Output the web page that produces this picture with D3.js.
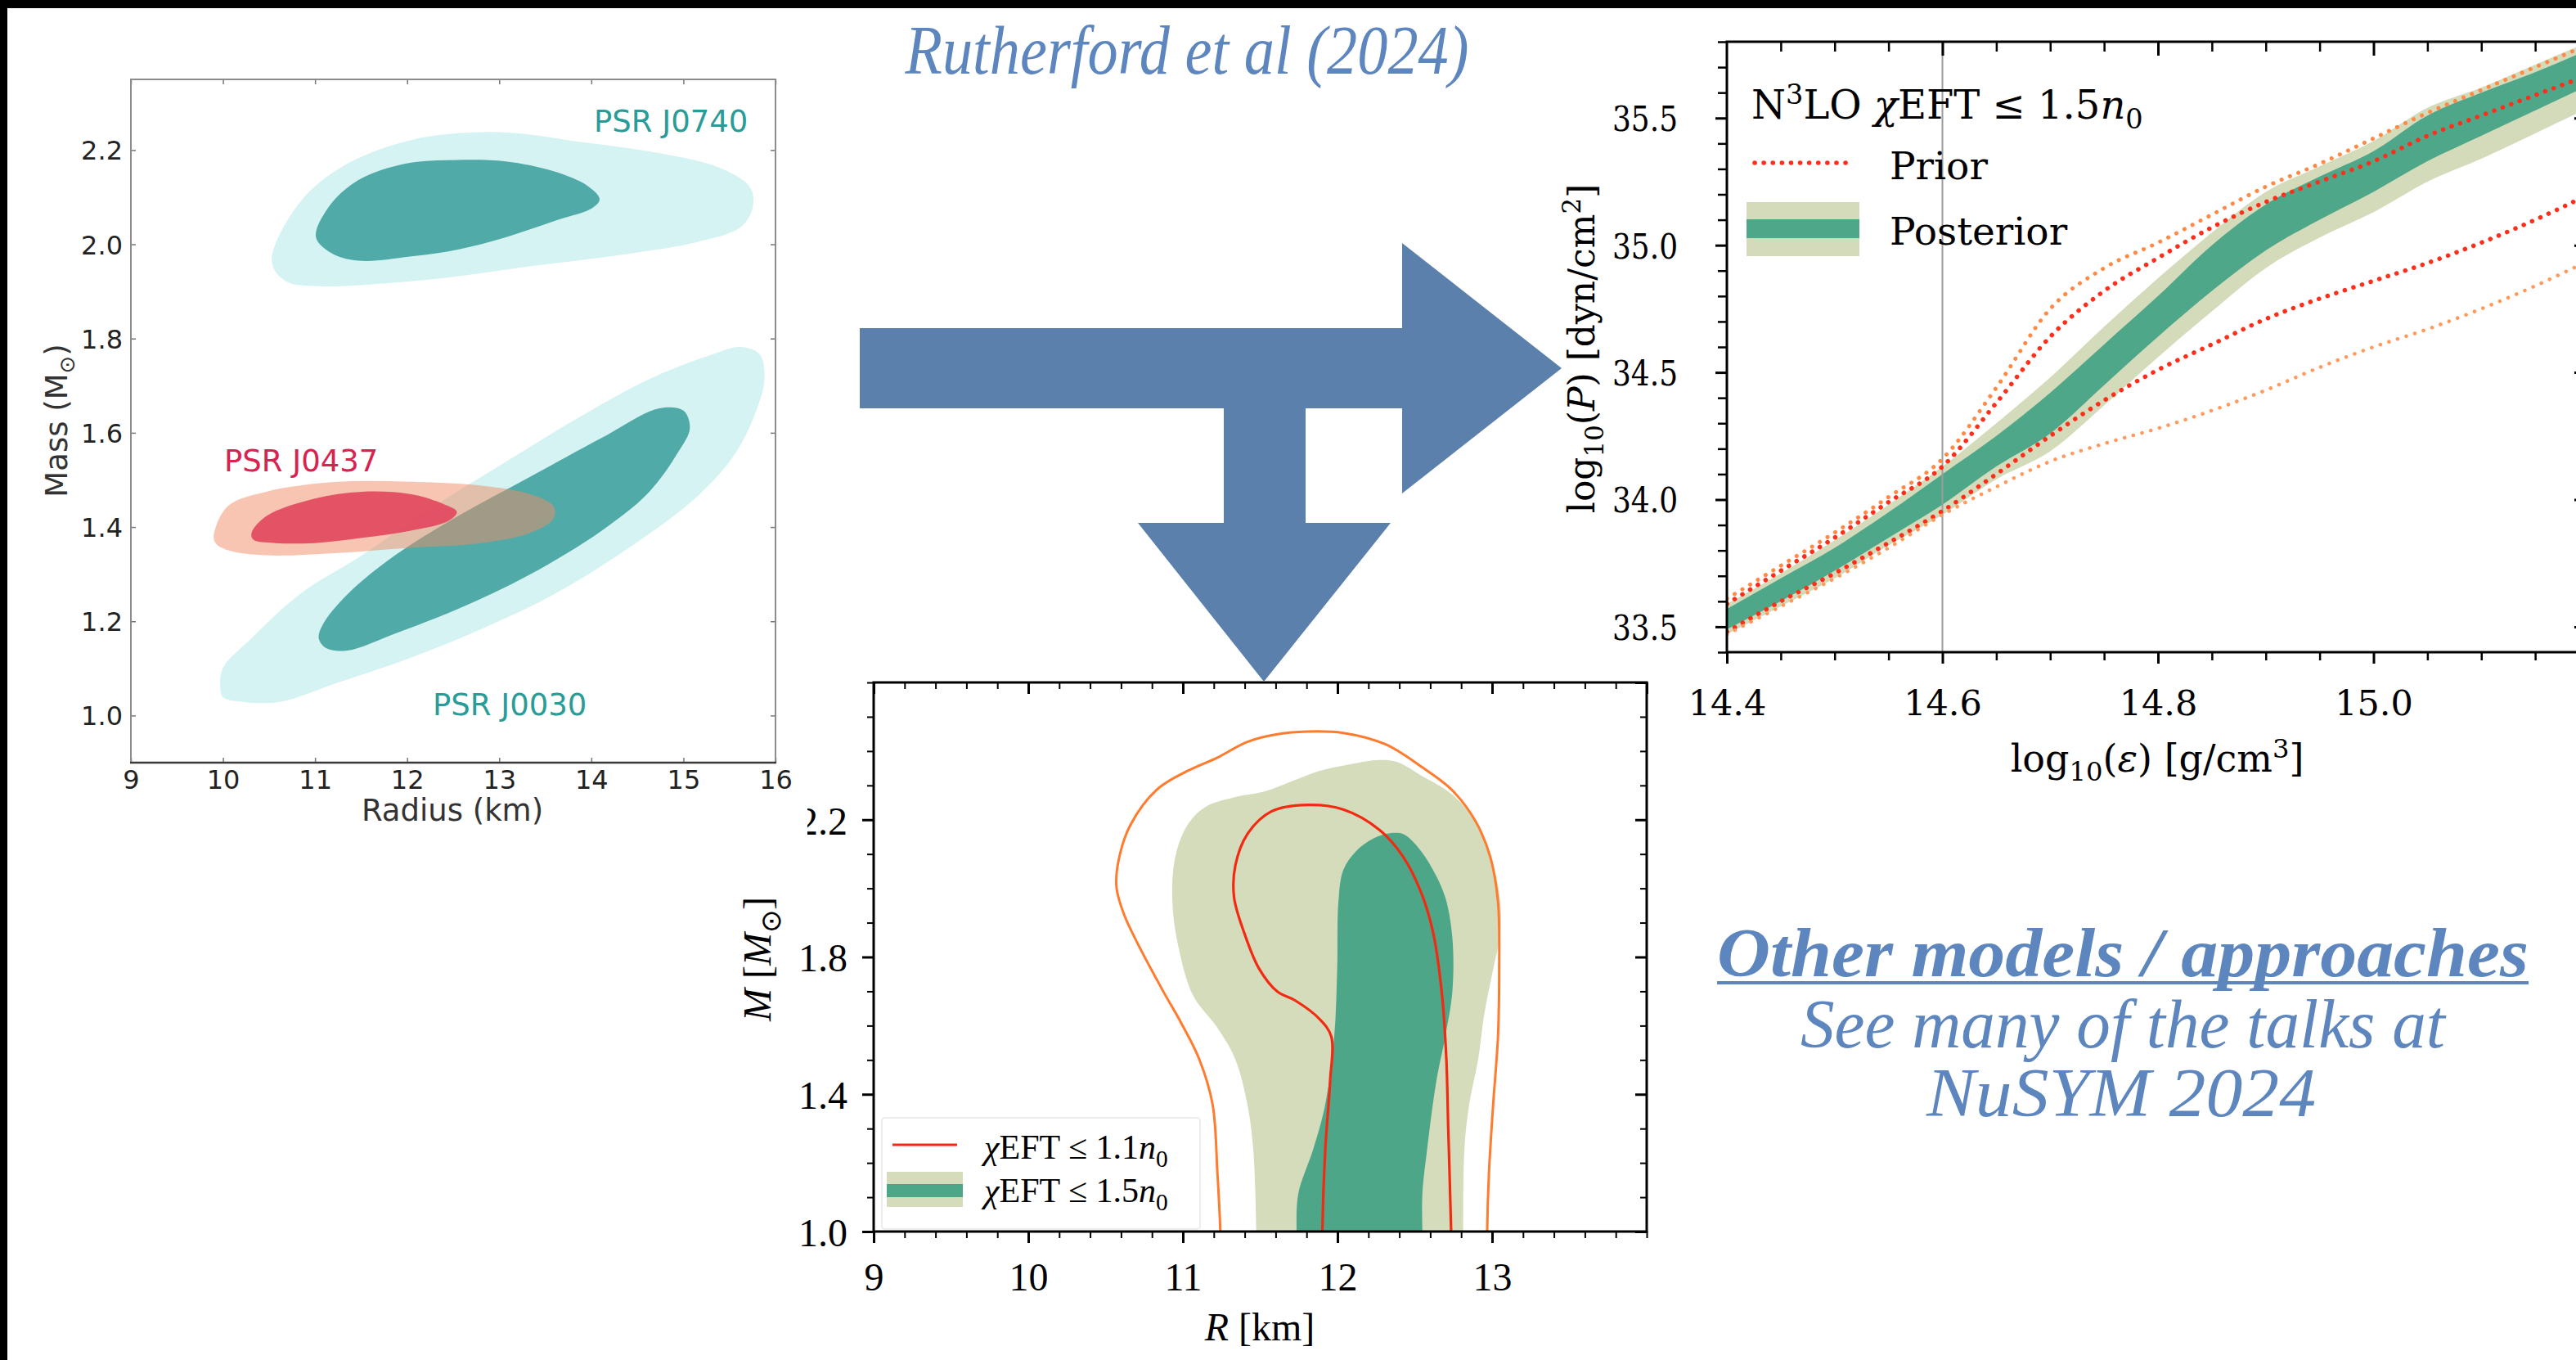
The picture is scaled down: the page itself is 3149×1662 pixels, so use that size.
<!DOCTYPE html>
<html><head><meta charset="utf-8">
<script src="https://cdn.jsdelivr.net/npm/d3@7"></script>
<style>html,body{margin:0;padding:0;background:#fff;overflow:hidden}</style>
</head><body>
<script>
// ---------- Pulsar mass-radius credible regions (Radius km, Mass Msun) ----------
const psrJ0740Outer = [[10.53,1.963],[10.83,2.088],[11.35,2.171],[12.08,2.223],[12.81,2.238],[13.33,2.233],[13.85,2.218],[14.63,2.197],[15.41,2.161],[15.73,2.119],[15.75,2.077],[15.62,2.036],[15.15,2.005],[14.37,1.979],[13.33,1.953],[12.55,1.932],[11.77,1.917],[11.04,1.911],[10.68,1.922]];
const psrJ0740Inner = [[11.01,2.015],[11.14,2.077],[11.46,2.135],[11.98,2.171],[12.55,2.179],[13.07,2.176],[13.59,2.155],[13.96,2.124],[14.09,2.096],[14.01,2.077],[13.64,2.052],[13.07,2.015],[12.55,1.989],[12.03,1.974],[11.51,1.965],[11.20,1.979]];
const psrJ0030Outer = [[9.97,1.060],[10.00,1.101],[10.31,1.164],[10.83,1.257],[11.51,1.340],[12.29,1.444],[13.07,1.538],[13.85,1.631],[14.63,1.714],[15.31,1.766],[15.62,1.782],[15.83,1.766],[15.88,1.714],[15.80,1.652],[15.57,1.558],[15.15,1.465],[14.37,1.351],[13.59,1.257],[12.81,1.184],[12.03,1.122],[11.25,1.070],[10.62,1.029],[10.21,1.029],[10.00,1.039]];
const psrJ0030Inner = [[11.04,1.164],[11.09,1.195],[11.35,1.257],[11.87,1.340],[12.55,1.423],[13.33,1.506],[14.11,1.589],[14.74,1.652],[15.00,1.647],[15.07,1.610],[14.94,1.558],[14.63,1.475],[14.11,1.392],[13.33,1.299],[12.55,1.226],[11.87,1.174],[11.35,1.138],[11.12,1.143]];
const psrJ0437Outer = [[9.90,1.382],[10.05,1.444],[10.47,1.475],[11.25,1.496],[12.03,1.496],[12.81,1.488],[13.33,1.470],[13.59,1.444],[13.59,1.418],[13.33,1.387],[12.81,1.366],[12.03,1.356],[11.25,1.345],[10.47,1.340],[10.05,1.351],[9.92,1.366]];
const psrJ0437Inner = [[10.31,1.387],[10.47,1.423],[10.99,1.460],[11.51,1.475],[12.03,1.470],[12.39,1.449],[12.54,1.432],[12.45,1.413],[12.03,1.392],[11.51,1.377],[10.99,1.366],[10.57,1.366],[10.33,1.373]];
const psrRadiusTicks = [9,10,11,12,13,14,15,16];
const psrMassTicks = [1.0,1.2,1.4,1.6,1.8,2.0,2.2];

// ---------- Equation of state: log10(eps) grid, posterior bands, prior envelopes ----------
const logEps   = [14.40,14.45,14.50,14.55,14.60,14.65,14.70,14.75,14.80,14.85,14.90,14.95,15.00,15.05,15.10,15.15,15.20];
const post95Lo = [33.47,33.58,33.69,33.82,33.94,34.08,34.19,34.37,34.56,34.74,34.91,35.03,35.13,35.25,35.34,35.44,35.54];
const post95Hi = [33.59,33.71,33.84,33.98,34.13,34.30,34.48,34.68,34.87,35.05,35.21,35.31,35.41,35.54,35.62,35.71,35.80];
const post68Lo = [33.49,33.60,33.72,33.85,33.98,34.13,34.26,34.45,34.64,34.82,34.98,35.10,35.21,35.33,35.43,35.53,35.63];
const post68Hi = [33.57,33.69,33.81,33.95,34.10,34.25,34.42,34.61,34.80,35.00,35.16,35.27,35.37,35.51,35.60,35.68,35.77];
const priorUpperOuter = [33.61,33.74,33.87,34.01,34.16,34.44,34.75,34.91,35.01,35.12,35.23,35.32,35.42,35.52,35.61,35.70,35.79];
const priorUpperInner = [33.59,33.72,33.85,33.99,34.13,34.38,34.64,34.82,34.95,35.07,35.17,35.25,35.33,35.43,35.51,35.59,35.67];
const priorLowerInner = [33.48,33.60,33.71,33.83,33.955,34.10,34.25,34.39,34.51,34.61,34.71,34.79,34.86,34.93,35.01,35.10,35.20];
const priorLowerOuter = [33.47,33.58,33.69,33.81,33.94,34.05,34.15,34.22,34.28,34.35,34.43,34.52,34.60,34.67,34.75,34.84,34.94];
const epsLabelTicks = [14.4,14.6,14.8,15.0];
const pressureTicks = [33.5,34.0,34.5,35.0,35.5];
const chiEftLimitEps = 14.6;

// ---------- Mass-radius posterior (R km, M Msun) ----------
const mr11Outer = [[11.242,1.0],[11.223,1.174],[11.192,1.371],[11.106,1.502],[10.99,1.607],[10.874,1.699],[10.718,1.830],[10.621,1.922],[10.571,2.001],[10.583,2.079],[10.66,2.184],[10.835,2.289],[11.029,2.342],[11.223,2.381],[11.417,2.427],[11.611,2.449],[11.805,2.457],[12.037,2.453],[12.309,2.420],[12.541,2.355],[12.735,2.289],[12.891,2.197],[12.988,2.092],[13.038,1.961],[13.046,1.765],[13.038,1.568],[13.007,1.371],[12.98,1.174],[12.968,1.0]];
const mr11Inner = [[11.902,1.0],[11.921,1.24],[11.952,1.437],[11.96,1.568],[11.882,1.620],[11.727,1.673],[11.611,1.699],[11.494,1.765],[11.397,1.870],[11.331,1.974],[11.339,2.066],[11.417,2.158],[11.572,2.224],[11.805,2.243],[12.037,2.230],[12.27,2.171],[12.425,2.092],[12.541,1.988],[12.619,1.870],[12.677,1.686],[12.704,1.502],[12.716,1.306],[12.735,1.0]];
const mr15Outer = [[11.475,1.0],[11.455,1.24],[11.417,1.371],[11.339,1.502],[11.223,1.594],[11.068,1.686],[10.971,1.830],[10.932,1.961],[10.951,2.092],[11.029,2.184],[11.145,2.237],[11.339,2.266],[11.533,2.283],[11.688,2.309],[11.882,2.342],[12.076,2.361],[12.27,2.374],[12.386,2.368],[12.541,2.329],[12.735,2.276],[12.891,2.197],[12.988,2.092],[13.046,1.988],[13.054,1.870],[13.007,1.765],[12.949,1.633],[12.91,1.502],[12.852,1.371],[12.821,1.24],[12.813,1.0]];
const mr15Inner = [[11.735,1.0],[11.746,1.109],[11.843,1.24],[11.921,1.371],[11.979,1.568],[11.998,1.765],[12.006,1.961],[12.037,2.053],[12.115,2.106],[12.231,2.145],[12.348,2.161],[12.425,2.158],[12.522,2.119],[12.619,2.053],[12.697,1.974],[12.743,1.856],[12.743,1.699],[12.697,1.568],[12.639,1.437],[12.58,1.24],[12.549,1.109],[12.549,1.0]];
const mrRadiusTicks = [9,10,11,12,13];
const mrMassTicks = [1.0,1.4,1.8,2.2];

// ---------- page ----------
const W = 3149, H = 1662;
const svg = d3.select("body").append("svg").attr("width", W).attr("height", H);
svg.append("rect").attr("width", W).attr("height", H).attr("fill", "#fff");
svg.append("rect").attr("width", W).attr("height", 10).attr("fill", "#000");
svg.append("rect").attr("width", 9).attr("height", H).attr("fill", "#000");

const SERIF = "'DejaVu Serif', serif";
const TIMES = "'Liberation Serif', serif";
const SANS = "'DejaVu Sans', sans-serif";
const BLUE = "#5d86bf";

// text with italic / subscript / superscript runs
function rich(parent, parts, o) {
  const t = parent.append("text").attr("x", o.x).attr("y", o.y)
    .style("font-family", o.font).style("font-size", o.size + "px").attr("fill", o.fill || "#000");
  if (o.anchor) t.attr("text-anchor", o.anchor);
  if (o.rotate) t.attr("transform", `rotate(${o.rotate},${o.x},${o.y})`);
  let shift = 0;
  parts.forEach(p => {
    if (typeof p === "string") p = {t: p};
    const target = p.sub ? o.size * 0.24 : p.sup ? -o.size * 0.38 : 0;
    const ts = t.append("tspan").text(p.t).attr("dy", target - shift);
    shift = target;
    if (p.sub || p.sup) ts.style("font-size", (o.size * 0.7) + "px");
    if (p.it) ts.style("font-style", "italic");
  });
  return t;
}

// one set of ticks (and optional labels) along one side of a frame
function ticks(g, side, scale, pos, values, size, o) {
  const gen = {bottom: d3.axisBottom, top: d3.axisTop, left: d3.axisLeft, right: d3.axisRight}[side];
  const ax = gen(scale).tickValues(values).tickSize(size).tickPadding(0)
    .tickFormat(o.fmt || (() => ""));
  const horiz = side === "bottom" || side === "top";
  const gg = g.append("g").attr("transform", horiz ? `translate(0,${pos})` : `translate(${pos},0)`).call(ax);
  gg.attr("font-family", null).attr("font-size", null);
  gg.select(".domain").remove();
  gg.selectAll("line").attr("stroke", o.color || "#000").attr("stroke-width", o.w || 2);
  gg.selectAll("text").attr("fill", o.textColor || "#000")
    .style("font-family", o.font).style("font-size", o.size + "px");
  if (o.labelOffset !== undefined) {
    if (horiz) gg.selectAll("text").attr("y", o.labelOffset).attr("dy", null);
    else gg.selectAll("text").attr("x", o.labelOffset).attr("dy", "0.36em");
  }
  return gg;
}
const minorBetween = (a, b, step, major) =>
  d3.range(Math.round((b - a) / step) + 1).map(i => +(a + i * step).toFixed(4))
    .filter(v => !major.some(m => Math.abs(m - v) < 1e-6));

// ---------- title ----------
svg.append("text").attr("x", 1451).attr("y", 90).attr("text-anchor", "middle")
  .style("font-family", TIMES).style("font-style", "italic").style("font-size", "84px")
  .attr("fill", BLUE).attr("textLength", 689).attr("lengthAdjust", "spacingAndGlyphs")
  .text("Rutherford et al (2024)");

// ---------- mass-radius posterior panel ----------
{
  const x = d3.scaleLinear().domain([9, 14]).range([1068, 2013]);
  const y = d3.scaleLinear().domain([1.0, 2.6]).range([1505, 834]);
  const g = svg.append("g");
  g.append("clipPath").attr("id", "clipMR").append("rect")
    .attr("x", 1068).attr("y", 834).attr("width", 945).attr("height", 671);
  const body = g.append("g").attr("clip-path", "url(#clipMR)");
  const ext = pts => [[pts[0][0], 0.97], ...pts, [pts[pts.length - 1][0], 0.97]];
  const open = d3.line().x(d => x(d[0])).y(d => y(d[1])).curve(d3.curveCatmullRom.alpha(0.5));
  body.append("path").attr("d", open(ext(mr15Outer)) + "Z").attr("fill", "#d5dcbc");
  body.append("path").attr("d", open(ext(mr15Inner)) + "Z").attr("fill", "#4ea689");
  body.append("path").attr("d", open(ext(mr11Outer))).attr("fill", "none").attr("stroke", "#ff7b2e").attr("stroke-width", 3);
  body.append("path").attr("d", open(ext(mr11Inner))).attr("fill", "none").attr("stroke", "#f32a12").attr("stroke-width", 3.2);

  const tk = {font: TIMES, size: 48};
  ticks(g, "bottom", x, 1505, mrRadiusTicks, 14, {...tk, w: 3, fmt: d3.format("d"), labelOffset: 72});
  ticks(g, "bottom", x, 1505, minorBetween(9, 14, 0.2, mrRadiusTicks), 8, {w: 2});
  ticks(g, "top", x, 834, [...mrRadiusTicks, 14], -14, {w: 3});
  ticks(g, "top", x, 834, minorBetween(9, 14, 0.2, mrRadiusTicks), -8, {w: 2});
  ticks(g, "left", y, 1068, mrMassTicks, 14, {...tk, w: 3, fmt: d3.format(".1f"), labelOffset: -32});
  ticks(g, "left", y, 1068, minorBetween(1.0, 2.6, 0.1, mrMassTicks), 8, {w: 2});
  ticks(g, "right", y, 2013, [...mrMassTicks, 2.6], -14, {w: 3});
  ticks(g, "right", y, 2013, minorBetween(1.0, 2.6, 0.1, mrMassTicks), -8, {w: 2});
  g.append("rect").attr("x", 1068).attr("y", 834).attr("width", 945).attr("height", 671)
    .attr("fill", "none").attr("stroke", "#000").attr("stroke-width", 3);

  rich(g, [{t: "R", it: true}, " [km]"], {x: 1540, y: 1638, font: TIMES, size: 48, anchor: "middle"});
  rich(g, [{t: "M", it: true}, " [", {t: "M", it: true}, {t: "⊙", sub: true}, "]"],
    {x: 942, y: 1172, font: TIMES, size: 48, anchor: "middle", rotate: -90});

  // legend
  g.append("rect").attr("x", 1078).attr("y", 1366).attr("width", 389).attr("height", 136).attr("rx", 4)
    .attr("fill", "#fff").attr("fill-opacity", 0.85).attr("stroke", "#ececec").attr("stroke-width", 2);
  g.append("line").attr("x1", 1091).attr("x2", 1170).attr("y1", 1399).attr("y2", 1399)
    .attr("stroke", "#f32a12").attr("stroke-width", 3.2);
  g.append("rect").attr("x", 1084).attr("y", 1432).attr("width", 93).attr("height", 43).attr("fill", "#d5dcbc");
  g.append("rect").attr("x", 1084).attr("y", 1447).attr("width", 93).attr("height", 16).attr("fill", "#4ea689");
  rich(g, [{t: "χ", it: true}, "EFT ≤ 1.1", {t: "n", it: true}, {t: "0", sub: true}], {x: 1203, y: 1416, font: TIMES, size: 42});
  rich(g, [{t: "χ", it: true}, "EFT ≤ 1.5", {t: "n", it: true}, {t: "0", sub: true}], {x: 1203, y: 1469, font: TIMES, size: 42});
}

// ---------- arrows ----------
svg.append("polygon").attr("fill", "#5c80ac")
  .attr("points", [[1051,401],[1714,401],[1714,297],[1909,450],[1714,603],[1714,499],[1051,499]].join(" "));
svg.append("polygon").attr("fill", "#5c80ac")
  .attr("points", [[1496,497],[1596,497],[1596,639],[1700,639],[1545,833],[1391,639],[1496,639]].join(" "));

// ---------- pulsar mass-radius panel ----------
{
  const g = svg.append("g");
  g.append("rect").attr("x", 9).attr("y", 10).attr("width", 978).attr("height", 1012).attr("fill", "#fff");
  const x = d3.scaleLinear().domain([9, 16]).range([160, 948]);
  const y = d3.scaleLinear().domain([0.9, 2.35]).range([932, 97]);
  const shape = d3.line().x(d => x(d[0])).y(d => y(d[1])).curve(d3.curveCatmullRomClosed.alpha(0.5));
  g.append("path").attr("d", shape(psrJ0740Outer)).attr("fill", "#d4f3f2");
  g.append("path").attr("d", shape(psrJ0740Inner)).attr("fill", "#50aaa8");
  g.append("path").attr("d", shape(psrJ0030Outer)).attr("fill", "#d4f3f2");
  g.append("path").attr("d", shape(psrJ0030Inner)).attr("fill", "#50aaa8");
  g.append("path").attr("d", shape(psrJ0437Outer)).attr("fill", "#f08c64").attr("fill-opacity", 0.5);
  g.append("path").attr("d", shape(psrJ0437Inner)).attr("fill", "#e2485f").attr("fill-opacity", 0.92);

  const tk = {font: SANS, size: 32, textColor: "#222", color: "#777", w: 1.5};
  ticks(g, "bottom", x, 932, psrRadiusTicks, -6, {...tk, fmt: d3.format("d"), labelOffset: 32});
  ticks(g, "top", x, 97, psrRadiusTicks, -6, tk);
  ticks(g, "left", y, 160, psrMassTicks, -6, {...tk, fmt: d3.format(".1f"), labelOffset: -10});
  ticks(g, "right", y, 948, psrMassTicks, -6, tk);
  g.append("path").attr("d", `M160,932V97H948V932`).attr("fill", "none").attr("stroke", "#8c8c8c").attr("stroke-width", 2);
  g.append("line").attr("x1", 159).attr("x2", 949).attr("y1", 932).attr("y2", 932).attr("stroke", "#3a3a3a").attr("stroke-width", 2.5);

  const lab = (txt, px, py, fill) => g.append("text").attr("x", px).attr("y", py).attr("fill", fill)
    .style("font-family", SANS).style("font-size", "37px").text(txt);
  lab("PSR J0740", 726, 161, "#2a9c98");
  lab("PSR J0437", 274, 576, "#d9224f");
  lab("PSR J0030", 529, 874, "#2a9c98");
  g.append("text").attr("x", 553).attr("y", 1003).attr("text-anchor", "middle").attr("fill", "#333")
    .style("font-family", SANS).style("font-size", "37px").text("Radius (km)");
  rich(g, ["Mass (M", {t: "⊙", sub: true}, ")"], {x: 82, y: 514, font: SANS, size: 37, anchor: "middle", rotate: -90, fill: "#333"});
}

// ---------- equation-of-state panel ----------
{
  const x = d3.scaleLinear().domain([14.4, 15.2]).range([2111, 3165]);
  const y = d3.scaleLinear().domain([33.4, 35.8]).range([797, 51]);
  const g = svg.append("g");
  g.append("clipPath").attr("id", "clipEOS").append("rect")
    .attr("x", 2111).attr("y", 51).attr("width", 1054).attr("height", 746);
  const body = g.append("g").attr("clip-path", "url(#clipEOS)");
  const band = (lo, hi) => d3.area().x((d, i) => x(logEps[i])).y0((d, i) => y(lo[i])).y1((d, i) => y(hi[i]))
    .curve(d3.curveMonotoneX)(logEps);
  body.append("path").attr("d", band(post95Lo, post95Hi)).attr("fill", "#d4dbbb");
  body.append("path").attr("d", band(post68Lo, post68Hi)).attr("fill", "#4fa78a");
  body.append("line").attr("x1", x(chiEftLimitEps)).attr("x2", x(chiEftLimitEps)).attr("y1", 51).attr("y2", 797)
    .attr("stroke", "#9c9c9c").attr("stroke-width", 2);
  const curve = vals => d3.line().x((d, i) => x(logEps[i])).y(d => y(d)).curve(d3.curveMonotoneX)(vals);
  const dotted = (vals, col, w) => body.append("path").attr("d", curve(vals)).attr("fill", "none")
    .attr("stroke", col).attr("stroke-width", w).attr("stroke-linecap", "round").attr("stroke-dasharray", "0.1 11");
  dotted(priorUpperOuter, "#ff8a45", 5);
  dotted(priorUpperInner, "#ff2e1a", 5.5);
  dotted(priorLowerInner, "#ff2e1a", 5.5);
  dotted(priorLowerOuter, "#ff9a5c", 4.5);

  const tk = {font: SERIF, size: 43};
  const epsMinor = minorBetween(14.4, 15.2, 0.05, [14.4, 14.6, 14.8, 15.0, 15.2]);
  ticks(g, "bottom", x, 797, epsLabelTicks, 14, {...tk, w: 3, fmt: d3.format(".1f"), labelOffset: 77});
  ticks(g, "bottom", x, 797, [...epsMinor, 15.2], 10, {w: 2.5});
  ticks(g, "top", x, 51, [14.6, 14.8, 15.0], -17, {w: 3});
  ticks(g, "top", x, 51, epsMinor, -12, {w: 2.5});
  const yl = ticks(g, "left", y, 2111, pressureTicks, 14, {...tk, w: 3, fmt: d3.format(".1f"), labelOffset: -60});
  yl.selectAll("text").attr("text-anchor", "end").attr("textLength", 80).attr("lengthAdjust", "spacingAndGlyphs");
  ticks(g, "left", y, 2111, minorBetween(33.4, 35.8, 0.1, pressureTicks), 11, {w: 2.5});
  ticks(g, "right", y, 3165, pressureTicks, -18, {w: 3});
  g.append("rect").attr("x", 2111).attr("y", 51).attr("width", 1054).attr("height", 746)
    .attr("fill", "none").attr("stroke", "#000").attr("stroke-width", 3);

  rich(g, ["log", {t: "10", sub: true}, "(", {t: "ε", it: true}, ") [g/cm", {t: "3", sup: true}, "]"],
    {x: 2637, y: 943, font: SERIF, size: 46, anchor: "middle"});
  rich(g, ["log", {t: "10", sub: true}, "(", {t: "P", it: true}, ") [dyn/cm", {t: "2", sup: true}, "]"],
    {x: 1949, y: 426, font: SERIF, size: 44, anchor: "middle", rotate: -90});

  // legend
  rich(g, ["N", {t: "3", sup: true}, "LO ", {t: "χ", it: true}, "EFT ≤ 1.5", {t: "n", it: true}, {t: "0", sub: true}],
    {x: 2141, y: 145, font: SERIF, size: 48});
  g.append("line").attr("x1", 2145).attr("x2", 2258).attr("y1", 199).attr("y2", 199)
    .attr("stroke", "#ff2e1a").attr("stroke-width", 5.5).attr("stroke-linecap", "round").attr("stroke-dasharray", "0.1 11");
  g.append("text").attr("x", 2310).attr("y", 219).style("font-family", SERIF).style("font-size", "47px").text("Prior");
  g.append("rect").attr("x", 2135).attr("y", 247).attr("width", 138).attr("height", 66).attr("fill", "#d4dbbb");
  g.append("rect").attr("x", 2135).attr("y", 268).attr("width", 138).attr("height", 23).attr("fill", "#4fa78a");
  g.append("text").attr("x", 2310).attr("y", 299).style("font-family", SERIF).style("font-size", "47px").text("Posterior");
}

// ---------- side note ----------
{
  const g = svg.append("g").attr("fill", BLUE)
    .style("font-family", TIMES).style("font-style", "italic").style("font-size", "84px");
  g.append("text").attr("x", 2595).attr("y", 1193).attr("text-anchor", "middle").style("font-weight", "bold")
    .attr("textLength", 992).attr("lengthAdjust", "spacingAndGlyphs").text("Other models / approaches");
  g.append("line").attr("x1", 2099).attr("x2", 3091).attr("y1", 1201).attr("y2", 1201)
    .attr("stroke", BLUE).attr("stroke-width", 4);
  g.append("text").attr("x", 2595).attr("y", 1280).attr("text-anchor", "middle")
    .attr("textLength", 788).attr("lengthAdjust", "spacingAndGlyphs").text("See many of the talks at");
  g.append("text").attr("x", 2593).attr("y", 1364).attr("text-anchor", "middle")
    .attr("textLength", 476).attr("lengthAdjust", "spacingAndGlyphs").text("NuSYM 2024");
}
</script>
</body></html>
